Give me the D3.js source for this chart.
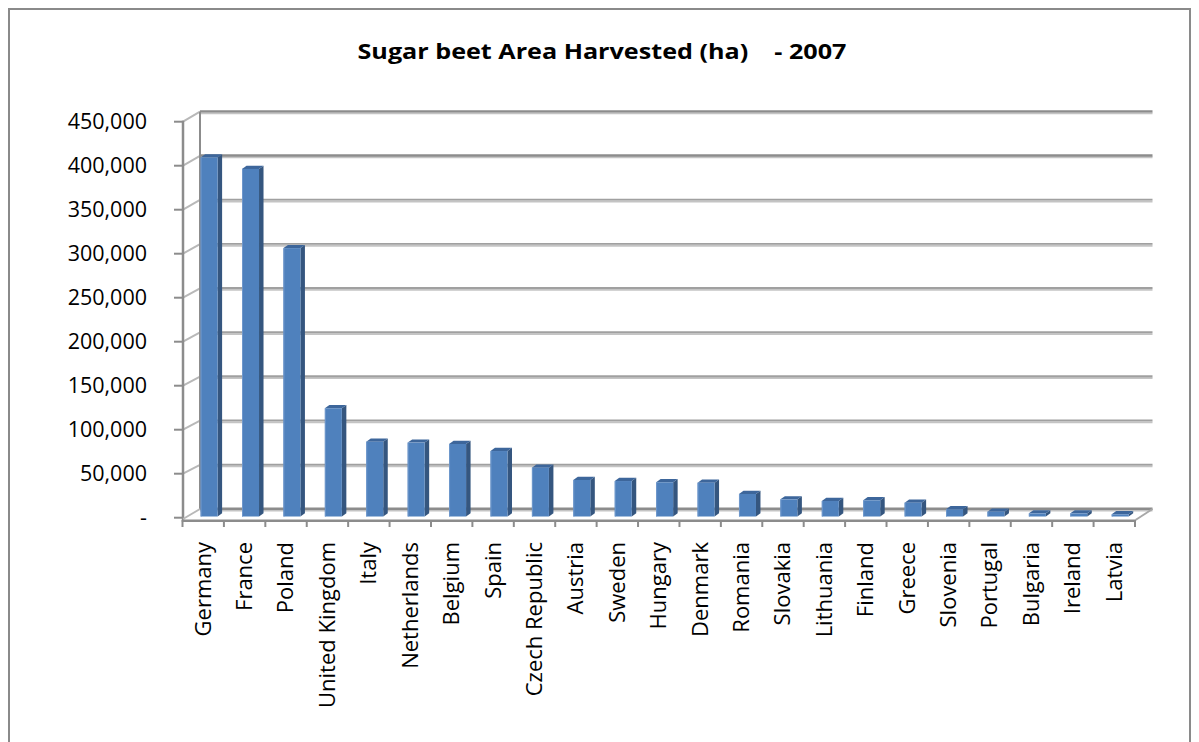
<!DOCTYPE html>
<html>
<head>
<meta charset="utf-8">
<script src="https://cdn.jsdelivr.net/npm/d3@7"></script>
<style>
  html, body { margin: 0; padding: 0; background: #fff; }
  svg { display: block; }
  text { font-family: "Open Sans", "Noto Sans", sans-serif; fill: #000; }
</style>
</head>
<body>
<svg id="chart" width="1199" height="742"></svg>
<script>
// Sugar beet area harvested (ha), 2007
const countries = ["Germany", "France", "Poland", "United Kingdom", "Italy", "Netherlands",
  "Belgium", "Spain", "Czech Republic", "Austria", "Sweden", "Hungary", "Denmark",
  "Romania", "Slovakia", "Lithuania", "Finland", "Greece", "Slovenia", "Portugal",
  "Bulgaria", "Ireland", "Latvia"];
const areaHa = [408000, 395000, 305000, 123000, 85000, 84000, 82400, 74400, 55500,
  41500, 40300, 38900, 38400, 25600, 19500, 17600, 18400, 15700, 8200, 5500,
  3600, 3600, 2500];
const yTicks = [0, 50000, 100000, 150000, 200000, 250000, 300000, 350000, 400000, 450000];
const titleText = "Sugar beet Area Harvested (ha)    - 2007";

const svg = d3.select("#chart");

// outer frame
svg.append("rect")
  .attr("x", 9).attr("y", 9).attr("width", 1181).attr("height", 745)
  .attr("fill", "none").attr("stroke", "#8a8a8a").attr("stroke-width", 2);

// title
svg.append("text")
  .attr("x", 602).attr("y", 59)
  .attr("text-anchor", "middle")
  .attr("font-size", 22).attr("font-weight", "bold")
  .attr("textLength", 489).attr("lengthAdjust", "spacingAndGlyphs")
  .style("white-space", "pre")
  .attr("xml:space", "preserve")
  .text(titleText);

// 3D frame geometry: front plane, back wall, and bar mid-depth plane
const xFront = d3.scaleBand().domain(countries).range([182, 1134.5]).padding(0);
const depth = { dx: 17, dy: -10.5 };             // front -> back wall offset
const yFront = d3.scaleLinear().domain([0, 450000]).range([517.7, 121.7]);
const yBack = d3.scaleLinear().domain([0, 450000]).range([509, 111.7]);
const yBar = d3.scaleLinear().domain([0, 450000]).range([516.5, 120.5]);
const barShift = 6.4;      // bar front face offset into the depth
const barW = 17;
const side = { dx: 4.5, dy: -3.2 };

const x0 = xFront.range()[0], x1 = xFront.range()[1];
const bx0 = x0 + depth.dx + 1, bx1 = x1 + depth.dx + 1;

// back-wall gridlines with their diagonal on the side wall
const grid = svg.append("g");
yTicks.forEach(v => {
  const yb = yBack(v), yf = yFront(v);
  const strong = v === 0 || v === 450000 || v === 400000;
  grid.append("line")
    .attr("x1", bx0).attr("x2", bx1).attr("y1", yb + 1.5).attr("y2", yb + 1.5)
    .attr("stroke", "#c4c4c4").attr("stroke-width", 2);
  grid.append("line")
    .attr("x1", bx0).attr("x2", bx1).attr("y1", yb - 0.3).attr("y2", yb - 0.3)
    .attr("stroke", strong ? "#8c8c8c" : "#a0a0a0")
    .attr("stroke-width", strong ? 2.4 : 1.8);
  if (v > 0) {
    grid.append("line")
      .attr("x1", x0 + 1).attr("y1", yf).attr("x2", bx0).attr("y2", yb)
      .attr("stroke", "#b8b8b8").attr("stroke-width", 2);
  }
});

// back wall left edge and left wall front edge (value axis)
svg.append("line").attr("x1", bx0).attr("x2", bx0)
  .attr("y1", yBack(450000)).attr("y2", yBack(0))
  .attr("stroke", "#8c8c8c").attr("stroke-width", 2);
svg.append("line").attr("x1", x0 + 1).attr("x2", x0 + 1)
  .attr("y1", yFront(450000) - 1).attr("y2", 522)
  .attr("stroke", "#8c8c8c").attr("stroke-width", 2.5);

// floor edges
svg.append("line").attr("x1", x0).attr("x2", x1 + 1).attr("y1", 520.8).attr("y2", 520.8)
  .attr("stroke", "#8c8c8c").attr("stroke-width", 2.6);
svg.append("line").attr("x1", x0 + 1).attr("y1", 519).attr("x2", bx0).attr("y2", yBack(0))
  .attr("stroke", "#b8b8b8").attr("stroke-width", 2);
svg.append("line").attr("x1", x1 + 1).attr("y1", 520).attr("x2", bx1).attr("y2", yBack(0))
  .attr("stroke", "#a8a8a8").attr("stroke-width", 2);

// value axis ticks and labels
const yAxis = svg.append("g");
yTicks.forEach(v => {
  const y = yFront(v);
  yAxis.append("line").attr("x1", 174).attr("x2", x0 + 1).attr("y1", y).attr("y2", y)
    .attr("stroke", "#8c8c8c").attr("stroke-width", 2);
  yAxis.append("text")
    .attr("x", 147).attr("y", y).attr("dy", "0.36em")
    .attr("text-anchor", "end").attr("font-size", 21.5)
    .text(v === 0 ? "-" : d3.format(",")(v));
});

// category ticks along the front floor edge
const catTicks = countries.map(c => xFront(c)).concat([x1]);
svg.append("g").selectAll("line").data(catTicks).join("line")
  .attr("x1", d => d + 0.5).attr("x2", d => d + 0.5)
  .attr("y1", 520).attr("y2", 527)
  .attr("stroke", "#8c8c8c").attr("stroke-width", 2);

// 3D columns
const bars = svg.append("g");
countries.forEach((c, i) => {
  const v = areaHa[i];
  const cx = xFront(c) + xFront.bandwidth() / 2 + barShift;
  const left = cx - barW / 2, right = cx + barW / 2;
  const top = yBar(v), bottom = yBar(0);
  const g = bars.append("g");
  // right side face
  g.append("path")
    .attr("d", `M${right},${bottom} L${right},${top} L${right + side.dx},${top + side.dy} L${right + side.dx},${bottom + side.dy} Z`)
    .attr("fill", "#35567f");
  // top face
  g.append("path")
    .attr("d", `M${left},${top} L${right},${top} L${right + side.dx},${top + side.dy} L${left + side.dx},${top + side.dy} Z`)
    .attr("fill", "#3d669b");
  // front face
  g.append("rect")
    .attr("x", left).attr("y", top).attr("width", barW).attr("height", bottom - top)
    .attr("fill", "#4f81bd");
  g.append("line")
    .attr("x1", left + 0.5).attr("x2", left + 0.5).attr("y1", top).attr("y2", bottom)
    .attr("stroke", "#6f98cc").attr("stroke-width", 1);
});

// category labels, rotated
svg.append("g").selectAll("text").data(countries).join("text")
  .attr("transform", d => `translate(${xFront(d) + xFront.bandwidth() / 2},542) rotate(-90)`)
  .attr("dy", "0.36em")
  .attr("text-anchor", "end")
  .attr("font-size", 22)
  .text(d => d);
</script>
</body>
</html>
